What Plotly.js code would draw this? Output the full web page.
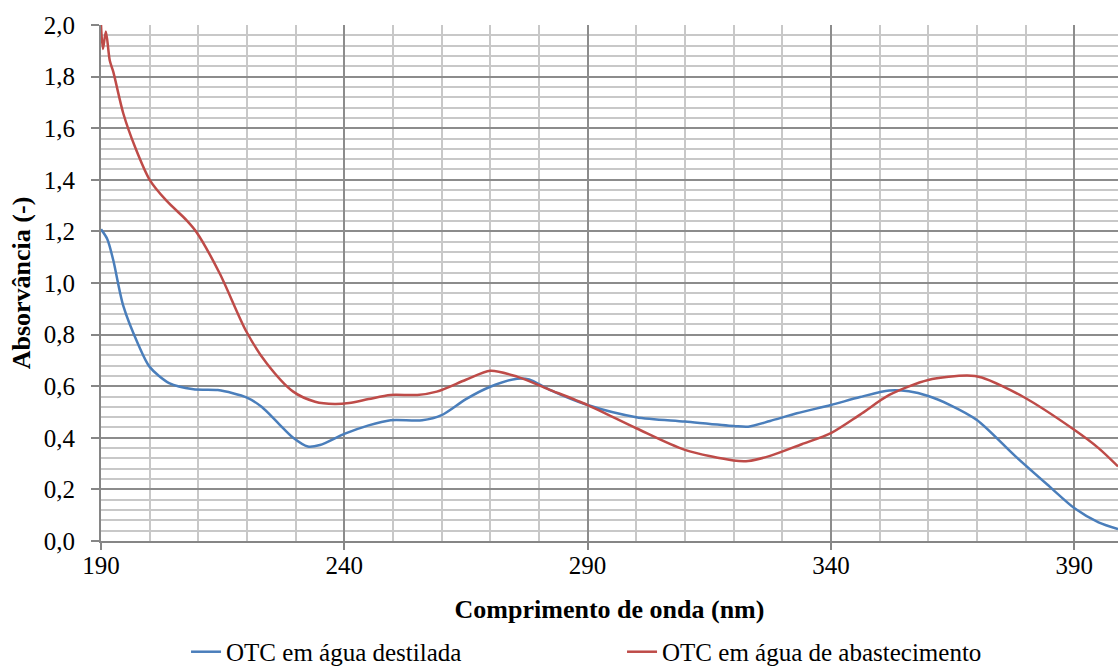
<!DOCTYPE html>
<html>
<head>
<meta charset="utf-8">
<script src="https://cdn.plot.ly/plotly-3.0.1.min.js"></script>
<style>html,body{margin:0;padding:0;background:#fff;}#chart{width:1118px;height:668px;}</style>
</head>
<body>
<div id="chart"></div>
<script>
const blueName = "OTC em água destilada";
const redName = "OTC em água de abastecimento";

const blueX = [190, 191.3, 192.5, 194.6, 197.7, 200, 204, 209, 214, 220, 223, 226.5, 229.5, 232.5, 235, 240, 245, 249.5, 256, 260, 265, 270, 275.5, 278, 282, 290, 300, 310, 320, 323, 327.5, 333, 340, 346, 352, 356, 360, 364.5, 370, 378, 385, 390, 395, 399];
const blueY = [1.208, 1.17, 1.09, 0.91, 0.76, 0.675, 0.612, 0.588, 0.585, 0.556, 0.52, 0.455, 0.40, 0.366, 0.372, 0.415, 0.448, 0.468, 0.468, 0.488, 0.55, 0.598, 0.629, 0.626, 0.588, 0.527, 0.48, 0.463, 0.446, 0.443, 0.465, 0.495, 0.527, 0.558, 0.583, 0.58, 0.562, 0.527, 0.469, 0.327, 0.21, 0.128, 0.072, 0.046];

const redX = [190, 190.4, 191, 191.8, 192.5, 194.6, 197, 200, 203.4, 207.6, 209.6, 214.4, 219.9, 224, 229.5, 234, 238, 241, 245, 249.5, 255, 259, 265, 270, 275.5, 282, 290, 300, 310, 320, 323, 327.5, 334, 340, 346, 352, 360, 368, 371, 379.5, 390, 395, 399];
const redY = [2.0, 1.907, 1.975, 1.862, 1.82, 1.656, 1.527, 1.40, 1.32, 1.243, 1.198, 1.037, 0.811, 0.69, 0.579, 0.54, 0.531, 0.535, 0.55, 0.566, 0.566, 0.579, 0.625, 0.66, 0.637, 0.588, 0.527, 0.437, 0.353, 0.312, 0.31, 0.33, 0.375, 0.418, 0.49, 0.566, 0.624, 0.641, 0.634, 0.559, 0.431, 0.36, 0.289];

const FONT = "Liberation Serif";

const traces = [
  {x: blueX, y: blueY, name: blueName, mode: "lines", line: {color: "#4A7EBB", width: 2.5, shape: "spline", smoothing: 0.8}},
  {x: redX, y: redY, name: redName, mode: "lines", line: {color: "#BE4B48", width: 2.5, shape: "spline", smoothing: 0.8}}
];

const layout = {
  width: 1118, height: 668,
  margin: {l: 101, r: 0, t: 25, b: 127},
  paper_bgcolor: "#fff", plot_bgcolor: "#fff",
  separators: ",.",
  font: {family: FONT, size: 25, color: "#000"},
  showlegend: true,
  legend: {orientation: "h", xref: "container", yref: "container", x: 0.1664, xanchor: "left", y: 0.024, yanchor: "middle", font: {family: FONT, size: 25}, entrywidth: 391, entrywidthmode: "pixels", itemwidth: 30, tracegroupgap: 0},
  xaxis: {
    range: [190, 399], tick0: 190, dtick: 50, tickmode: "linear",
    showgrid: true, gridcolor: "#8c8c8c", gridwidth: 2,
    minor: {dtick: 10, tick0: 190, showgrid: true, gridcolor: "#c8c8c8", gridwidth: 2},
    showline: true, linecolor: "#868686", linewidth: 2,
    ticks: "outside", ticklen: 7, tickcolor: "#868686", tickwidth: 2,
    tickfont: {family: FONT, size: 25}, ticklabelstandoff: -6,
    zeroline: false,
    title: {text: "<b>Comprimento de onda (nm)</b>", font: {family: FONT, size: 26}, standoff: 22}
  },
  yaxis: {
    range: [0, 2.0], tick0: 0, dtick: 0.2, tickmode: "linear", tickformat: ".1f",
    showgrid: true, gridcolor: "#8c8c8c", gridwidth: 2,
    minor: {dtick: 0.04, tick0: 0, showgrid: true, gridcolor: "#c8c8c8", gridwidth: 2},
    showline: true, linecolor: "#868686", linewidth: 2,
    ticks: "outside", ticklen: 8, tickcolor: "#868686", tickwidth: 2,
    tickfont: {family: FONT, size: 25}, ticklabelstandoff: 11,
    zeroline: false,
    title: {text: "<b>Absorvância (-)</b>", font: {family: FONT, size: 26}, standoff: 6}
  }
};

Plotly.newPlot("chart", traces, layout, {displayModeBar: false, staticPlot: true});
</script>
</body>
</html>
